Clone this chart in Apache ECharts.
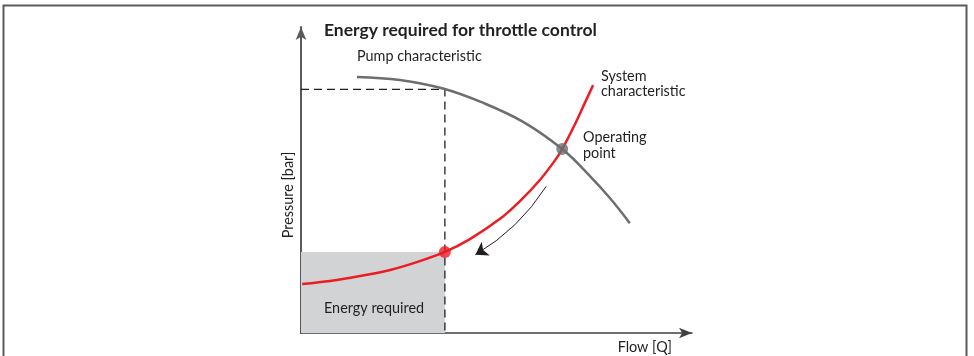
<!DOCTYPE html>
<html>
<head>
<meta charset="utf-8">
<script src="https://cdn.jsdelivr.net/npm/echarts@6/dist/echarts.min.js"></script>
<style>
  html, body { margin: 0; padding: 0; background: #ffffff; }
  #chart { width: 974px; height: 356px; }
</style>
</head>
<body>
<div id="chart"></div>
<script>
// Pump characteristic (relative flow %, relative pressure %)
const pumpFlow     = [14.3, 25.3, 36.3, 46.0, 56.8, 66.8, 73.9, 79.0, 84.1];
const pumpPressure = [83.7, 82.7, 79.9, 75.5, 69.0, 60.1, 51.3, 44.1, 35.9];

// System characteristic
const systemFlow     = [0.3, 7.4, 15.1, 22.8, 30.4, 36.8, 43.2, 50.9, 56.0, 61.1, 65.0, 66.8, 70.1, 72.6, 74.7];
const systemPressure = [16.0, 17.0, 18.6, 20.6, 23.5, 26.5, 30.7, 37.3, 43.1, 50.0, 56.5, 60.1, 68.3, 75.2, 81.0];

// Operating point (pump meets system) and throttled point
const operatingPoint = [66.8, 60.1];
const throttledPoint = [36.8, 26.5];
// Pump pressure delivered at the throttled flow
const throttledPumpPressure = 79.6;

// Direction arrow alongside the system curve (from, to)
const shiftArrow = [[62.7, 47.9], [44.6, 25.6]];

const ink = '#231f20';
const grey = '#6d6e71';
const red = '#ed1c24';
const font = 'Lato, "Noto Sans", sans-serif';
const labelFont = '14.4px ' + font;

const zip = (xs, ys) => xs.map((x, i) => [x, ys[i]]);

const chart = echarts.init(document.getElementById('chart'), null, { renderer: 'canvas' });

chart.setOption({
  animation: false,
  backgroundColor: '#ffffff',
  title: {
    text: 'Energy required for throttle control',
    left: 319, top: 16,
    textStyle: { fontFamily: font, fontWeight: 'bold', fontSize: 17.5, color: ink }
  },
  grid: { left: 301, right: 282, top: 27, bottom: 23 },
  xAxis: {
    type: 'value', min: 0, max: 100,
    splitLine: { show: false }, axisTick: { show: false }, axisLabel: { show: false },
    axisLine: {
      show: true, onZero: false,
      symbol: ['none', 'arrow'], symbolSize: [8, 13],
      lineStyle: { color: '#414042', width: 1.5 }
    }
  },
  yAxis: {
    type: 'value', min: 0, max: 100,
    splitLine: { show: false }, axisTick: { show: false }, axisLabel: { show: false },
    axisLine: {
      show: true, onZero: false,
      symbol: ['none', 'arrow'], symbolSize: [8, 13],
      lineStyle: { color: '#58595b', width: 2 }
    }
  },
  graphic: [
    { type: 'rect', silent: true, z: 100,
      shape: { x: 3.5, y: 5.5, width: 963, height: 420 },
      style: { fill: 'none', stroke: '#5a5b5d', lineWidth: 2 } },
    { type: 'text', x: 357, y: 56, style: { text: 'Pump characteristic', font: labelFont, fill: ink, verticalAlign: 'middle' } },
    { type: 'text', x: 601, y: 76, style: { text: 'System', font: labelFont, fill: ink, verticalAlign: 'middle' } },
    { type: 'text', x: 601, y: 91, style: { text: 'characteristic', font: labelFont, fill: ink, verticalAlign: 'middle' } },
    { type: 'text', x: 583, y: 137, style: { text: 'Operating', font: labelFont, fill: ink, verticalAlign: 'middle' } },
    { type: 'text', x: 583, y: 153, style: { text: 'point', font: labelFont, fill: ink, verticalAlign: 'middle' } },
    { type: 'text', x: 324, y: 308, z: 50, style: { text: 'Energy required', font: labelFont, fill: ink, verticalAlign: 'middle' } },
    { type: 'text', x: 672, y: 347, style: { text: 'Flow [Q]', font: labelFont, fill: ink, align: 'right', verticalAlign: 'middle' } },
    { type: 'text', x: 288, y: 195, rotation: Math.PI / 2,
      style: { text: 'Pressure [bar]', font: labelFont, fill: ink, align: 'center', verticalAlign: 'middle' } }
  ],
  series: [
    {
      name: 'Energy required', type: 'line', data: [], silent: true,
      markArea: {
        silent: true,
        itemStyle: { color: '#d1d3d4' },
        data: [[{ coord: [0, 0] }, { coord: throttledPoint }]]
      }
    },
    {
      name: 'Throttle guides', type: 'line', silent: true, showSymbol: false,
      data: [[0, throttledPumpPressure], [throttledPoint[0], throttledPumpPressure], [throttledPoint[0], 0]],
      lineStyle: { color: ink, width: 1.3, type: [8, 5] }, z: 3
    },
    {
      name: 'Pump characteristic', type: 'line', smooth: 0.4, showSymbol: false,
      data: zip(pumpFlow, pumpPressure),
      lineStyle: { color: grey, width: 2.5 }, z: 4
    },
    {
      name: 'System characteristic', type: 'line', smooth: 0.3, showSymbol: false,
      data: zip(systemFlow, systemPressure),
      lineStyle: { color: red, width: 2.5 }, z: 5
    },
    {
      name: 'Direction', type: 'lines', coordinateSystem: 'cartesian2d', silent: true,
      symbol: ['none', 'arrow'], symbolSize: [0, 12],
      lineStyle: { color: ink, width: 1, curveness: 0.12, opacity: 1 },
      data: [{ coords: shiftArrow }], z: 6
    },
    {
      name: 'Points', type: 'scatter', symbolSize: 12, silent: true, z: 7,
      data: [
        { value: operatingPoint, itemStyle: { color: grey } },
        { value: throttledPoint, itemStyle: { color: red } }
      ]
    }
  ]
});
</script>
</body>
</html>
